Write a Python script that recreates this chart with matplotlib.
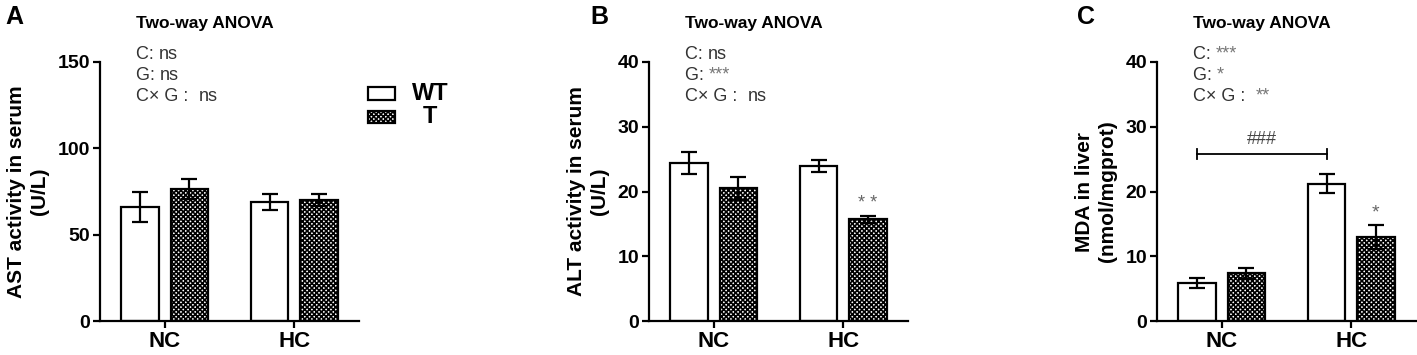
import numpy as np
import matplotlib
matplotlib.use("Agg")
import matplotlib.pyplot as plt
from matplotlib.patches import Rectangle

plt.rcParams["font.family"] = ["Liberation Sans", "DejaVu Sans"]
plt.rcParams["hatch.linewidth"] = 1.2

groups = ["NC", "HC"]
genotypes = ["WT", "T"]

# panel A: AST
ast_wt = [66.0, 68.8]
ast_wt_err = [8.5, 4.6]
ast_t = [76.5, 70.2]
ast_t_err = [6.0, 3.4]

# panel B: ALT
alt_wt = [24.4, 23.9]
alt_wt_err = [1.65, 0.9]
alt_t = [20.5, 15.7]
alt_t_err = [1.8, 0.5]

# panel C: MDA
mda_wt = [5.9, 21.2]
mda_wt_err = [0.75, 1.5]
mda_t = [7.4, 13.0]
mda_t_err = [0.85, 1.9]

panels = [
    dict(letter="A", ylabel="AST activity in serum\n(U/L)", ymax=150, step=50,
         wt=ast_wt, wt_err=ast_wt_err, t=ast_t, t_err=ast_t_err,
         anova=[("C: ", "ns"), ("G: ", "ns"), ("C\u00d7 G :  ", "ns")]),
    dict(letter="B", ylabel="ALT activity in serum\n(U/L)", ymax=40, step=10,
         wt=alt_wt, wt_err=alt_wt_err, t=alt_t, t_err=alt_t_err,
         anova=[("C: ", "ns"), ("G: ", "***"), ("C\u00d7 G :  ", "ns")]),
    dict(letter="C", ylabel="MDA in liver\n(nmol/mgprot)", ymax=40, step=10,
         wt=mda_wt, wt_err=mda_wt_err, t=mda_t, t_err=mda_t_err,
         anova=[("C: ", "***"), ("G: ", "*"), ("C\u00d7 G :  ", "**")]),
]

W, H = 1417, 355
fig = plt.figure(figsize=(W / 100, H / 100), dpi=100)
lefts = [100, 649, 1157]
letter_x = [5, 590, 1077]

x = np.arange(len(groups))
bw = 0.29
off = 0.19
lw = 1.6
hatch = "xxxxxxx"

axes = []
for p, lp, lx in zip(panels, lefts, letter_x):
    ax = fig.add_axes([lp / W, 1 - 321 / H, 259 / W, 259 / H])
    axes.append(ax)
    ax.bar(x - off, p["wt"], bw, color="white", edgecolor="black", linewidth=lw, zorder=2)
    ax.bar(x + off, p["t"], bw, color="white", edgecolor="black", linewidth=lw,
           hatch=hatch, zorder=2)
    ax.errorbar(x - off, p["wt"], yerr=p["wt_err"], fmt="none", ecolor="black",
                elinewidth=lw, capsize=6, capthick=lw, zorder=3)
    ax.errorbar(x + off, p["t"], yerr=p["t_err"], fmt="none", ecolor="black",
                elinewidth=lw, capsize=6, capthick=lw, zorder=3)

    ax.set_xlim(-0.5, 1.5)
    ax.set_ylim(0, p["ymax"])
    ax.set_yticks(np.arange(0, p["ymax"] + 1, p["step"]))
    ax.set_xticks(x)
    ax.set_xticklabels(groups, fontsize=16, fontweight="bold")
    for t in ax.get_yticklabels():
        t.set_fontsize(14)
        t.set_fontweight("bold")
    ax.tick_params(width=lw, length=5, pad=2)
    for s in ["top", "right"]:
        ax.spines[s].set_visible(False)
    for s in ["left", "bottom"]:
        ax.spines[s].set_linewidth(lw)
    ax.set_ylabel(p["ylabel"], fontsize=15, fontweight="bold", labelpad=6, linespacing=1.3)

    ax.text(0.14, 1.148, "Two-way ANOVA", transform=ax.transAxes, fontsize=12.5,
            fontweight="bold", va="center", ha="left")
    for i, (lab, sig) in enumerate(p["anova"]):
        yy = 1.03 - i * 0.081
        t1 = ax.text(0.14, yy, lab, transform=ax.transAxes, fontsize=13, color="#333333",
                     va="center", ha="left")
        ax.annotate(sig, xycoords=t1, xy=(1, 0.5), va="center", ha="left", fontsize=13,
                    color="#333333" if sig == "ns" else "#777777")

    fig.text(lx / W, 1 - 17 / H, p["letter"], fontsize=18, fontweight="bold",
             va="center", ha="left")

# significance marks
axes[1].text(1 + off, alt_t[1] + alt_t_err[1] + 0.6, "* *", ha="center", va="bottom",
             fontsize=13, color="#666666")
axes[2].text(1 + off, mda_t[1] + mda_t_err[1] + 0.4, "*", ha="center", va="bottom",
             fontsize=14, color="#666666")
yb = 25.8
axes[2].plot([0 - off, 1 - off], [yb, yb], color="black", lw=1.3)
axes[2].plot([0 - off, 0 - off], [yb - 0.8, yb + 0.8], color="black", lw=1.3)
axes[2].plot([1 - off, 1 - off], [yb - 0.8, yb + 0.8], color="black", lw=1.3)
axes[2].text(0.5 - off, yb + 0.9, "###", ha="center", va="bottom", fontsize=13, color="#444444")

# legend for panel A, drawn beside the axes
axA = axes[0]
for i, (g, h) in enumerate(zip(genotypes, [None, hatch])):
    yy = 0.878 - i * 0.09
    axA.add_patch(Rectangle((1.035, yy - 0.024), 0.105, 0.048, transform=axA.transAxes,
                            facecolor="white", edgecolor="black", linewidth=lw,
                            hatch=h, clip_on=False))
    axA.text(1.275, yy, g, transform=axA.transAxes, fontsize=17, fontweight="bold",
             ha="center", va="center")

fig.savefig("out.png", dpi=100)
